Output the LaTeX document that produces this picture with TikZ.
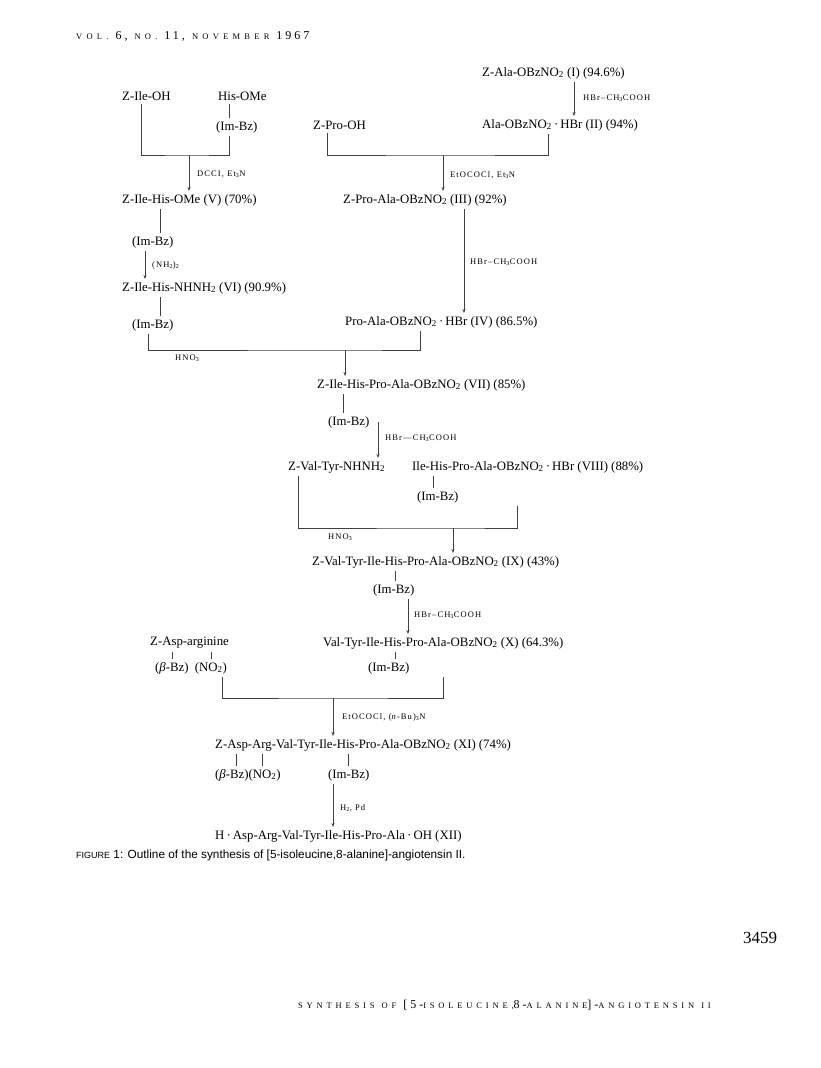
\documentclass[tikz,border=0pt]{standalone}
\usepackage{fontspec}
\setmainfont{Liberation Serif}
\newfontfamily\capsans{Liberation Sans}
\usetikzlibrary{arrows.meta}
\newcommand\sbs[1]{\textsubscript{#1}}
\newcommand\reagfont{\fontsize{8.5}{10}\selectfont\addfontfeatures{LetterSpace=13}}
\newcommand\chemfont{\fontsize{12.8}{15}\selectfont}
\newcommand\spcaps[1]{{\fontsize{8.5}{10}\selectfont\addfontfeatures{LetterSpace=50}#1}}
\newcommand\ftcaps[1]{{\fontsize{8.5}{10}\selectfont\addfontfeatures{LetterSpace=45}#1}}
\newcommand\spdig[1]{{\fontsize{12}{14}\selectfont\addfontfeatures{LetterSpace=25}#1}}
\newcommand\wsp{\hspace{7pt}}
\begin{document}
\begin{tikzpicture}[x=1pt,y=-1pt,
  chem/.style={font=\chemfont, inner xsep=0pt, inner ysep=3pt, anchor=west},
  reag/.style={font=\reagfont, inner sep=0pt, anchor=west},
  plain/.style={inner sep=0pt, anchor=west},
  ln/.style={draw=black!75, line width=0.6pt},
  arr/.style={ln, -{Stealth[length=4pt,width=3pt]}}]
\fill[white] (0,0) rectangle (820,1068);
\useasboundingbox (0,0) rectangle (820,1068);

\node[plain] (hdr) at (76,36) {\spcaps{VOL.}\wsp\spdig{6,}\wsp\spcaps{NO.}\wsp\spdig{11,}\wsp\spcaps{NOVEMBER}\wsp\spdig{1967}};

% ---- nodes
\node[chem] (i) at (482,73) {Z-Ala-OBzNO\sbs{2} (I) (94.6\%)};
\node[chem] (ii) at (482,125) {Ala-OBzNO\sbs{2}\,·\,HBr (II) (94\%)};
\node[chem] (zile) at (122,96) {Z-Ile-OH};
\node[chem] (hisome) at (218,96) {His-OMe};
\node[chem] (imbza) at (216,127) {(Im-Bz)};
\node[chem] (zpro) at (313,125) {Z-Pro-OH};
\node[chem] (v) at (122,200) {Z-Ile-His-OMe (V) (70\%)};
\node[chem] (iii) at (343,200) {Z-Pro-Ala-OBzNO\sbs{2} (III) (92\%)};
\node[chem] (imbzb) at (132,242) {(Im-Bz)};
\node[chem] (vi) at (122,288) {Z-Ile-His-NHNH\sbs{2} (VI) (90.9\%)};
\node[chem] (imbzc) at (132,325) {(Im-Bz)};
\node[chem] (iv) at (345,322) {Pro-Ala-OBzNO\sbs{2}\,·\,HBr (IV) (86.5\%)};
\node[chem] (vii) at (317,385) {Z-Ile-His-Pro-Ala-OBzNO\sbs{2} (VII) (85\%)};
\node[chem] (imbzd) at (328,422) {(Im-Bz)};
\node[chem] (zvt) at (288,467) {Z-Val-Tyr-NHNH\sbs{2}};
\node[chem] (viii) at (412,467) {Ile-His-Pro-Ala-OBzNO\sbs{2}\,·\,HBr (VIII) (88\%)};
\node[chem] (imbze) at (417,497) {(Im-Bz)};
\node[chem] (ix) at (312,562) {Z-Val-Tyr-Ile-His-Pro-Ala-OBzNO\sbs{2} (IX) (43\%)};
\node[chem] (imbzf) at (373,590) {(Im-Bz)};
\node[chem] (x) at (323,643) {Val-Tyr-Ile-His-Pro-Ala-OBzNO\sbs{2} (X) (64.3\%)};
\node[chem] (imbzg) at (368,668) {(Im-Bz)};
\node[chem] (zasp) at (150,643) {Z-Asp-arginine};
\node[chem] (bzno) at (155,668) {(\textit{β}-Bz)\ \ (NO\sbs{2})};
\node[chem] (xi) at (215,745) {Z-Asp-Arg-Val-Tyr-Ile-His-Pro-Ala-OBzNO\sbs{2} (XI) (74\%)};
\node[chem] (bznob) at (215,775) {(\textit{β}-Bz)(NO\sbs{2})};
\node[chem] (imbzh) at (328,775) {(Im-Bz)};
\node[chem] (xii) at (215,836) {H\,·\,Asp-Arg-Val-Tyr-Ile-His-Pro-Ala\,·\,OH (XII)};

% ---- reagent labels
\node[reag] (r1) at (583,98) {HBr–CH\sbs{3}COOH};
\node[reag] (r2) at (197,174) {DCCI, Et\sbs{3}N};
\node[reag] (r3) at (450,175) {EtOCOCl, Et\sbs{3}N};
\node[reag] (r4) at (152,265) {(NH\sbs{2})\sbs{2}};
\node[reag] (r5) at (470,262) {HBr–CH\sbs{3}COOH};
\node[reag] (r6) at (175,358) {HNO\sbs{3}};
\node[reag] (r7) at (385,438) {HBr—CH\sbs{3}COOH};
\node[reag] (r8) at (328,537) {HNO\sbs{3}};
\node[reag] (r9) at (414,615) {HBr–CH\sbs{3}COOH};
\node[reag] (r10) at (342,717) {EtOCOCl, (\textit{n}-Bu)\sbs{3}N};
\node[reag] (r11) at (340,808) {H\sbs{2}, Pd};

% ---- junctions
\coordinate (ja) at (189,155);
\coordinate (jb) at (443,155);
\coordinate (jc) at (345,350);
\coordinate (je) at (453,528);
\coordinate (jg) at (333,698);

% ---- connectors
\draw[arr] (i.south -| 574,0) -- (ii.north -| 574,0);
\draw[ln] (hisome.south -| 229,0) -- (imbza.north -| 229,0);
\draw[ln] (zile.south -| 141,0) |- (ja) -| (imbza.south -| 229,0);
\draw[arr] (ja) -- (v.north -| ja);
\draw[ln] (zpro.south -| 327,0) |- (jb) -| (ii.south -| 548,0);
\draw[arr] (jb) -- (iii.north -| jb);

\draw[ln] (v.south -| 160,0) -- (imbzb.north -| 160,0);
\draw[arr] (imbzb.south -| 145,0) -- (vi.north -| 145,0);
\draw[ln] (vi.south -| 160,0) -- (imbzc.north -| 160,0);
\draw[arr] (iii.south -| 464,0) -- (iv.north -| 464,0);

\draw[ln] (imbzc.south -| 148,0) |- (jc) -| (iv.south -| 420,0);
\draw[arr] (jc) -- (vii.north -| jc);

\draw[ln] (vii.south -| 343,0) -- (imbzd.north -| 343,0);
\draw[arr] (imbzd.center -| 378,0) -- (zvt.north -| 378,0);
\draw[ln] (viii.south -| 433,0) -- (imbze.north -| 433,0);
\draw[ln] (zvt.south -| 298,0) |- (je) -| (imbze.south -| 517,0);
\draw[arr] (je) -- (ix.north -| je);

\draw[ln] (ix.south -| 395,0) -- (imbzf.north -| 395,0);
\draw[arr] (imbzf.south -| 408,0) -- (x.north -| 408,0);
\draw[ln] (x.south -| 395,0) -- (imbzg.north -| 395,0);
\draw[ln] (zasp.south -| 172,0) -- (bzno.north -| 172,0);
\draw[ln] (zasp.south -| 211,0) -- (bzno.north -| 211,0);
\draw[ln] (bzno.south -| 222,0) |- (jg) -| (imbzg.south -| 443,0);
\draw[arr] (jg) -- (xi.north -| jg);

\draw[ln] (xi.south -| 236,0) -- (bznob.north -| 236,0);
\draw[ln] (xi.south -| 262,0) -- (bznob.north -| 262,0);
\draw[ln] (xi.south -| 348,0) -- (imbzh.north -| 348,0);
\draw[arr] (imbzh.south -| 333,0) -- (xii.north -| 333,0);

% ---- caption, page number, footer
\node[plain] (cap) at (76,855) {\capsans\fontsize{9}{11}\selectfont FIGURE\fontsize{11.8}{13}\selectfont\ 1: Outline of the synthesis of [5-isoleucine,8-alanine]-angiotensin II.};
\node[plain, font=\fontsize{17}{20}\selectfont] (pg) at (743,938) {3459};
\node[plain] (ftr) at (298,1005) {\ftcaps{SYNTHESIS}\wsp\ftcaps{OF}\wsp\spdig{[5-}\ftcaps{ISOLEUCINE,}\spdig{8-}\ftcaps{ALANINE}\spdig{]-}\ftcaps{ANGIOTENSIN}\wsp\ftcaps{II}};
\end{tikzpicture}
\end{document}
